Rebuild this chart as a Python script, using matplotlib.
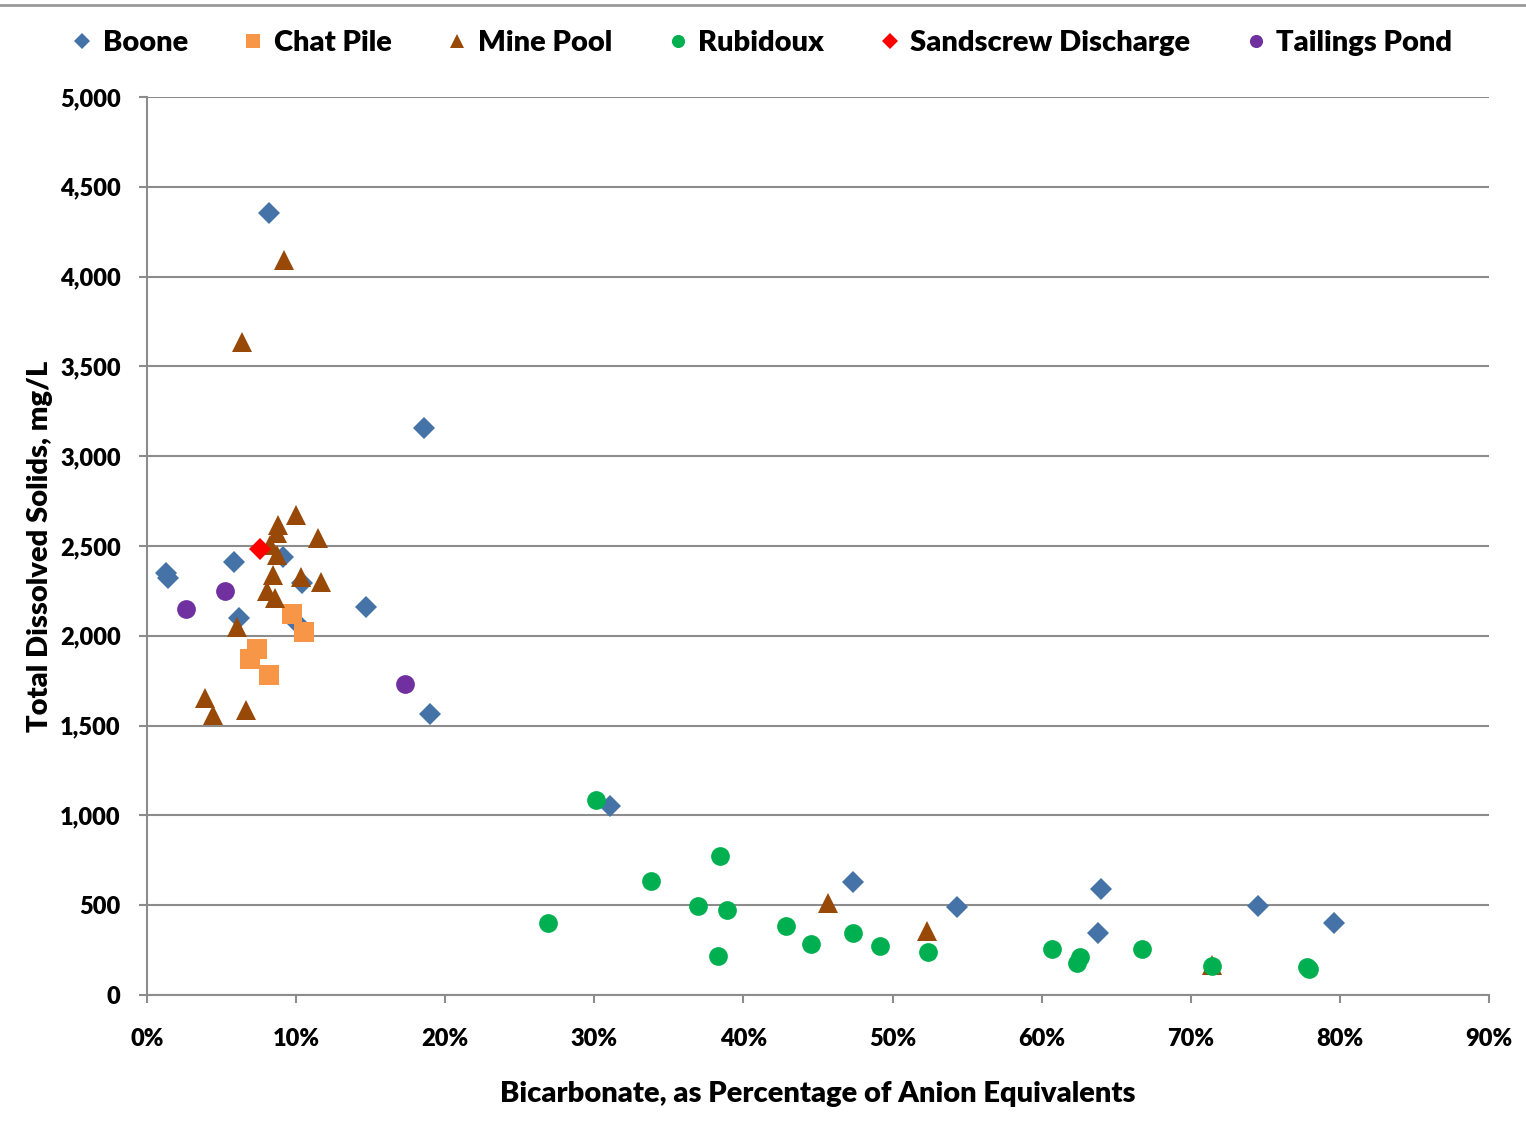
import numpy as np
import matplotlib.pyplot as plt
from matplotlib.lines import Line2D
from matplotlib.ticker import FuncFormatter, MultipleLocator

plt.rcParams['font.family'] = ['Lato', 'DejaVu Sans']
plt.rcParams['font.weight'] = 'heavy'
W = 'heavy'

# Bicarbonate (% of anion equivalents) and TDS (mg/L) per source
boone_x = [1.3, 1.4, 5.86, 9.1, 10.4, 6.15, 10.0, 8.2, 18.6, 14.7, 19.0, 31.05,
           47.35, 54.3, 64.0, 63.8, 74.5, 79.6]
boone_y = [2350, 2320, 2413, 2437, 2292, 2099, 2079, 4354, 3157, 2160, 1565, 1052,
           629, 490, 589, 344, 494, 402]

chat_x = [9.7, 10.55, 7.38, 6.93, 8.2]
chat_y = [2120, 2023, 1928, 1869, 1780]

mine_x = [9.97, 8.8, 8.7, 11.45, 8.25, 8.7, 8.43, 10.35, 11.7, 8.07, 8.6, 6.06,
          3.89, 4.4, 6.62, 6.37, 9.19, 45.7, 52.3, 71.4]
mine_y = [2673, 2617, 2571, 2543, 2506, 2450, 2339, 2329, 2302, 2249, 2212, 2051,
          1652, 1559, 1587, 3636, 4092, 512, 356, 167]

rubi_x = [26.9, 30.1, 33.8, 38.4, 36.95, 38.9, 38.3, 42.86, 44.5, 47.35, 49.16,
          52.4, 60.7, 62.6, 62.4, 66.7, 71.45, 77.8, 77.95]
rubi_y = [401, 1086, 635, 774, 496, 473, 217, 384, 284, 345, 273,
          239, 254, 213, 176, 254, 161, 158, 145]

sand_x = [7.6]
sand_y = [2482]

tail_x = [2.6, 5.25, 17.3]
tail_y = [2148, 2251, 1732]

series = [
    ("Boone", boone_x, boone_y, "D", "#4572A7", 11.5),
    ("Chat Pile", chat_x, chat_y, "s", "#F79646", 14),
    ("Mine Pool", mine_x, mine_y, "^", "#984807", 14.5),
    ("Rubidoux", rubi_x, rubi_y, "o", "#00B050", 13.5),
    ("Sandscrew Discharge", sand_x, sand_y, "D", "#FF0000", 11.5),
    ("Tailings Pond", tail_x, tail_y, "o", "#7030A0", 13.5),
]

fig = plt.figure(figsize=(15.26, 11.35), dpi=100)
ax = fig.add_axes([147 / 1526, 140 / 1135, 1342 / 1526, 898 / 1135])

for name, xs, ys, mk, col, ms in series:
    ax.plot(xs, ys, linestyle="none", marker=mk, color=col, markersize=ms,
            markeredgewidth=0, label=name)

ax.set_xlim(0, 90)
ax.set_ylim(0, 5000)
ax.xaxis.set_major_locator(MultipleLocator(10))
ax.yaxis.set_major_locator(MultipleLocator(500))
ax.xaxis.set_major_formatter(FuncFormatter(lambda v, p: f"{v:.0f}%"))
ax.yaxis.set_major_formatter(FuncFormatter(lambda v, p: f"{v:,.0f}"))
ax.grid(axis="y", color="#8c8c8c", linewidth=1.5)
ax.set_axisbelow(True)
for s in ["top", "right"]:
    ax.spines[s].set_visible(False)
for s in ["left", "bottom"]:
    ax.spines[s].set_color("#8c8c8c")
    ax.spines[s].set_linewidth(1.5)
ax.tick_params(axis="both", colors="#8c8c8c", length=6, width=1.5,
               labelcolor="black", labelsize=17)
ax.tick_params(axis="x", pad=18)
ax.tick_params(axis="y", pad=13)
for lab in ax.get_xticklabels() + ax.get_yticklabels():
    lab.set_fontweight(W)

ax.set_xlabel("Bicarbonate, as Percentage of Anion Equivalents", fontsize=21,
              fontweight=W, labelpad=22)
ax.set_ylabel("Total Dissolved Solids, mg/L", fontsize=21, fontweight=W,
              labelpad=5)

fig.legend(loc="center", bbox_to_anchor=(0.497, 1 - 43 / 1135), ncol=6,
           frameon=False, prop={"size": 21, "weight": W}, markerscale=0.7,
           handletextpad=0.1, columnspacing=1.65, handlelength=1.2)

fig.add_artist(Line2D([0, 1], [1 - 5 / 1135, 1 - 5 / 1135], color="#999999",
                      linewidth=2))

fig.savefig("out.png", dpi=100)
